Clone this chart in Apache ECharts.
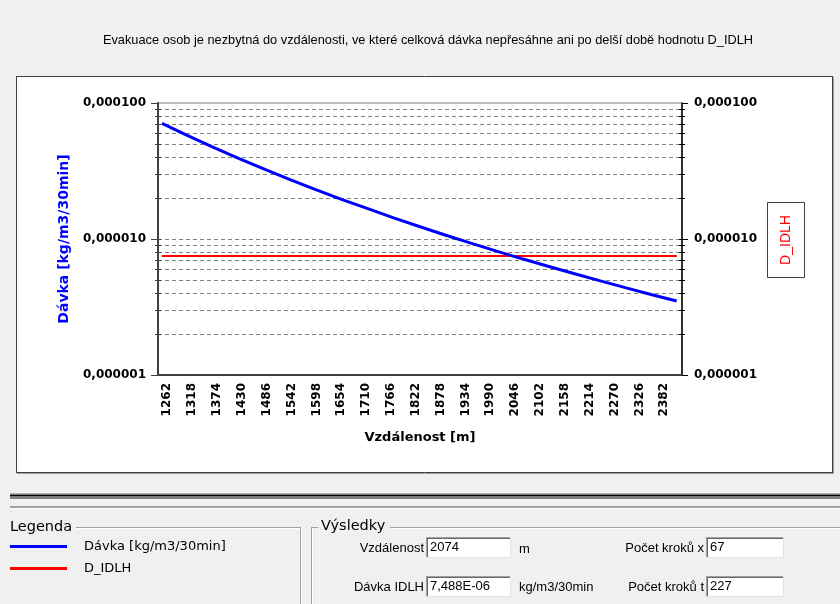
<!DOCTYPE html>
<html>
<head>
<meta charset="utf-8">
<script src="https://cdn.jsdelivr.net/npm/echarts@6/dist/echarts.min.js"></script>
<style>
html,body{margin:0;padding:0;background:#f0f0f0;}
#c{width:840px;height:604px;}
</style>
</head>
<body>
<div id="c"></div>
<script>
// ---- data ----
const distances = [1250,1308,1366,1424,1482,1540,1598,1656,1714,1772,1830,1888,1946,2004,2062,2120,2178,2236,2294,2352,2410];
const doseValues = [7.08e-5,5.75e-5,4.72e-5,3.90e-5,3.25e-5,2.72e-5,2.30e-5,1.95e-5,1.67e-5,1.43e-5,1.235e-5,1.07e-5,9.32e-6,8.15e-6,7.15e-6,6.30e-6,5.57e-6,4.94e-6,4.39e-6,3.91e-6,3.50e-6];
const idlhValue = 7.488e-6;
const idlhRange = [1250, 2410];
const xTickLabels = [1262,1318,1374,1430,1486,1542,1598,1654,1710,1766,1822,1878,1934,1990,2046,2102,2158,2214,2270,2326,2382];
const yMajorTicks = [1e-6, 1e-5, 1e-4];
const yMinorTicks = [2e-6,3e-6,4e-6,5e-6,6e-6,7e-6,8e-6,9e-6,1e-5,2e-5,3e-5,4e-5,5e-5,6e-5,7e-5,8e-5,9e-5];
const titleText = 'Evakuace osob je nezbytná do vzdálenosti, ve které celková dávka nepřesáhne ani po delší době hodnotu D_IDLH';
const resultDistance = '2074';
const resultDose = '7,488E-06';
const stepsX = '67';
const stepsT = '227';

const chart = echarts.init(document.getElementById('c'), null, {renderer:'canvas'});

const tickFont = {fontFamily:'DejaVu Sans', fontWeight:'bold', fontSize:12, color:'#000'};
const fmtY = v => Number(v).toFixed(6).replace('.', ',');

function yAx(pos, extra) {
  return Object.assign({
    type:'log', logBase:10, min:1e-6, max:1e-4, position:pos,
    splitLine:{show:false}, axisLabel:{show:false}, axisTick:{show:false},
    axisLine:{show:false}, minorTick:{show:false}, minorSplitLine:{show:false}
  }, extra);
}

const ui = [];
// chart panel
ui.push({type:'rect', z:-10, shape:{x:16.5, y:76.5, width:816, height:396}, style:{fill:'#ffffff', stroke:null}});
ui.push({type:'line', z:20, shape:{x1:16, y1:76.5, x2:833, y2:76.5}, style:{stroke:'#404040', lineWidth:1}});
ui.push({type:'line', z:20, shape:{x1:16.5, y1:76, x2:16.5, y2:473}, style:{stroke:'#404040', lineWidth:1}});
ui.push({type:'line', z:20, shape:{x1:16, y1:472.5, x2:833, y2:472.5}, style:{stroke:'#404040', lineWidth:1}});
ui.push({type:'line', z:20, shape:{x1:832.5, y1:76, x2:832.5, y2:473}, style:{stroke:'#404040', lineWidth:1}});
ui.push({type:'line', z:20, shape:{x1:17, y1:473.5, x2:834, y2:473.5}, style:{stroke:'#a0a0a0', lineWidth:1}});
ui.push({type:'line', z:20, shape:{x1:833.5, y1:77, x2:833.5, y2:474}, style:{stroke:'#a0a0a0', lineWidth:1}});
// title
ui.push({type:'text', z:10, x:428, y:40, style:{text:titleText, fontFamily:'Liberation Sans', fontSize:12.8, fill:'#000', align:'center', verticalAlign:'middle'}});
// D_IDLH box
ui.push({type:'rect', z:10, shape:{x:767.5, y:202.5, width:37, height:75}, style:{fill:'#ffffff', stroke:'#404040', lineWidth:1}});
ui.push({type:'text', z:11, x:786, y:240, rotation:Math.PI/2, style:{text:'D_IDLH', fontFamily:'Liberation Sans', fontSize:14, fill:'#ff0000', align:'center', verticalAlign:'middle'}});
// separators
ui.push({type:'line', z:5, shape:{x1:10, y1:493.5, x2:840, y2:493.5}, style:{stroke:'#b0b0b0', lineWidth:1}});
ui.push({type:'line', z:5, shape:{x1:10, y1:495.5, x2:840, y2:495.5}, style:{stroke:'#000000', lineWidth:2}});
ui.push({type:'line', z:5, shape:{x1:10, y1:498, x2:840, y2:498}, style:{stroke:'#808080', lineWidth:2}});
ui.push({type:'line', z:5, shape:{x1:10, y1:507, x2:840, y2:507}, style:{stroke:'#a0a0a0', lineWidth:2}});
ui.push({type:'line', z:5, shape:{x1:10, y1:508.5, x2:840, y2:508.5}, style:{stroke:'#ffffff', lineWidth:1}});
// legend group box
ui.push({type:'line', z:5, shape:{x1:76, y1:527.5, x2:301, y2:527.5}, style:{stroke:'#a0a0a0', lineWidth:1}});
ui.push({type:'line', z:5, shape:{x1:76, y1:528.5, x2:300, y2:528.5}, style:{stroke:'#ffffff', lineWidth:1}});
ui.push({type:'line', z:5, shape:{x1:300.5, y1:527, x2:300.5, y2:604}, style:{stroke:'#a0a0a0', lineWidth:1}});
ui.push({type:'line', z:5, shape:{x1:301.5, y1:527, x2:301.5, y2:604}, style:{stroke:'#ffffff', lineWidth:1}});
ui.push({type:'text', z:10, x:10, y:527, style:{text:'Legenda', fontFamily:'DejaVu Sans', fontSize:14.5, fill:'#000', align:'left', verticalAlign:'middle'}});
// results group box
ui.push({type:'line', z:5, shape:{x1:311.5, y1:527.5, x2:318, y2:527.5}, style:{stroke:'#a0a0a0', lineWidth:1}});
ui.push({type:'line', z:5, shape:{x1:390, y1:527.5, x2:840, y2:527.5}, style:{stroke:'#a0a0a0', lineWidth:1}});
ui.push({type:'line', z:5, shape:{x1:390, y1:528.5, x2:840, y2:528.5}, style:{stroke:'#ffffff', lineWidth:1}});
ui.push({type:'line', z:5, shape:{x1:311.5, y1:527, x2:311.5, y2:604}, style:{stroke:'#a0a0a0', lineWidth:1}});
ui.push({type:'line', z:5, shape:{x1:312.5, y1:528, x2:312.5, y2:604}, style:{stroke:'#ffffff', lineWidth:1}});
ui.push({type:'text', z:10, x:321, y:526, style:{text:'Výsledky', fontFamily:'DejaVu Sans', fontSize:14.5, fill:'#000', align:'left', verticalAlign:'middle'}});

function label(txt, x, y, align) {
  ui.push({type:'text', z:10, x:x, y:y, style:{text:txt, fontFamily:'Liberation Sans', fontSize:13, fill:'#000', align:align, verticalAlign:'middle'}});
}
function inputBox(txt, x, y, w, h) {
  ui.push({type:'rect', z:8, shape:{x:x, y:y, width:w, height:h}, style:{fill:'#ffffff', stroke:null}});
  ui.push({type:'line', z:9, shape:{x1:x, y1:y+0.5, x2:x+w, y2:y+0.5}, style:{stroke:'#a0a0a0', lineWidth:1}});
  ui.push({type:'line', z:9, shape:{x1:x+0.5, y1:y, x2:x+0.5, y2:y+h}, style:{stroke:'#a0a0a0', lineWidth:1}});
  ui.push({type:'line', z:9, shape:{x1:x+1, y1:y+1.5, x2:x+w-1, y2:y+1.5}, style:{stroke:'#696969', lineWidth:1}});
  ui.push({type:'line', z:9, shape:{x1:x+1.5, y1:y+1, x2:x+1.5, y2:y+h-1}, style:{stroke:'#696969', lineWidth:1}});
  ui.push({type:'line', z:9, shape:{x1:x, y1:y+h-0.5, x2:x+w, y2:y+h-0.5}, style:{stroke:'#e3e3e3', lineWidth:1}});
  ui.push({type:'line', z:9, shape:{x1:x+w-0.5, y1:y, x2:x+w-0.5, y2:y+h}, style:{stroke:'#e3e3e3', lineWidth:1}});
  ui.push({type:'text', z:10, x:x+4, y:y+h/2, style:{text:txt, fontFamily:'Liberation Sans', fontSize:13, fill:'#000', align:'left', verticalAlign:'middle'}});
}
label('Vzdálenost', 424, 548, 'right');
inputBox(resultDistance, 426, 537, 85, 21);
label('m', 519, 549, 'left');
label('Počet kroků x', 704, 548, 'right');
inputBox(stepsX, 706, 537, 78, 21);
label('Dávka IDLH', 424, 587, 'right');
inputBox(resultDose, 426, 576, 85, 21);
label('kg/m3/30min', 519, 587, 'left');
label('Počet kroků t', 704, 587, 'right');
inputBox(stepsT, 706, 576, 78, 21);

const option = {
  animation:false,
  backgroundColor:'transparent',
  textStyle:{fontFamily:'DejaVu Sans'},
  grid:{left:158, top:103, width:524, height:272, show:true, borderColor:'#808080', borderWidth:1, backgroundColor:'transparent', containLabel:false},
  legend:{
    show:true, orient:'vertical', left:10, top:540, padding:0, itemGap:9, icon:'rect', itemWidth:57, itemHeight:3,
    selectedMode:false,
    textStyle:{fontFamily:'DejaVu Sans', fontSize:13, color:'#000', padding:[0,0,0,12]},
    data:['Dávka [kg/m3/30min]', 'D_IDLH']
  },
  xAxis:{
    type:'value', min:1241, max:2422,
    name:'Vzdálenost [m]', nameLocation:'middle', nameGap:56,
    nameTextStyle:{fontFamily:'DejaVu Sans', fontWeight:'bold', fontSize:13, color:'#000'},
    axisLine:{show:true, onZero:false, lineStyle:{color:'#404040', width:2}},
    axisTick:{show:false},
    splitLine:{show:false},
    axisLabel:Object.assign({rotate:90, margin:8, customValues:xTickLabels, formatter:v => String(v), showMinLabel:true, showMaxLabel:true, hideOverlap:false}, tickFont)
  },
  yAxis:[
    yAx('left', {
      name:'Dávka [kg/m3/30min]', nameLocation:'middle', nameGap:87,
      nameTextStyle:{fontFamily:'DejaVu Sans', fontWeight:'bold', fontSize:14, color:'#0000ff'},
      axisLine:{show:true, lineStyle:{color:'#404040', width:2}},
      axisTick:{show:true, length:7, customValues:yMajorTicks, lineStyle:{color:'#404040', width:1}},
      axisLabel:Object.assign({show:true, margin:12, customValues:yMajorTicks, formatter:fmtY}, tickFont)
    }),
    yAx('left', {
      axisTick:{show:true, length:3, customValues:yMinorTicks, lineStyle:{color:'#404040', width:1}},
      splitLine:{show:true, lineStyle:{color:'#808080', width:1, type:[4,3]}}
    }),
    yAx('left', {
      axisTick:{show:true, inside:true, length:3, customValues:yMinorTicks, lineStyle:{color:'#404040', width:1}}
    }),
    yAx('right', {
      axisLine:{show:true, lineStyle:{color:'#000', width:1.5}},
      axisTick:{show:true, length:6, customValues:yMajorTicks, lineStyle:{color:'#000', width:1}},
      axisLabel:Object.assign({show:true, margin:12, customValues:yMajorTicks, formatter:fmtY}, tickFont)
    }),
    yAx('right', {
      axisTick:{show:true, length:3, customValues:yMinorTicks, lineStyle:{color:'#000', width:1}}
    }),
    yAx('right', {
      axisTick:{show:true, inside:true, length:3, customValues:yMinorTicks, lineStyle:{color:'#000', width:1}}
    })
  ],
  series:[
    {
      name:'Dávka [kg/m3/30min]', type:'line', xAxisIndex:0, yAxisIndex:0,
      data:distances.map((d,i) => [d, doseValues[i]]),
      showSymbol:false, symbol:'none', smooth:false, z:4,
      itemStyle:{color:'#0000ff'}, lineStyle:{color:'#0000ff', width:3}
    },
    {
      name:'D_IDLH', type:'line', xAxisIndex:0, yAxisIndex:0,
      data:idlhRange.map(d => [d, idlhValue]),
      showSymbol:false, symbol:'none', z:3,
      itemStyle:{color:'#ff0000'}, lineStyle:{color:'#ff0000', width:2}
    }
  ],
  graphic:{elements:ui}
};
chart.setOption(option);
</script>
</body>
</html>
